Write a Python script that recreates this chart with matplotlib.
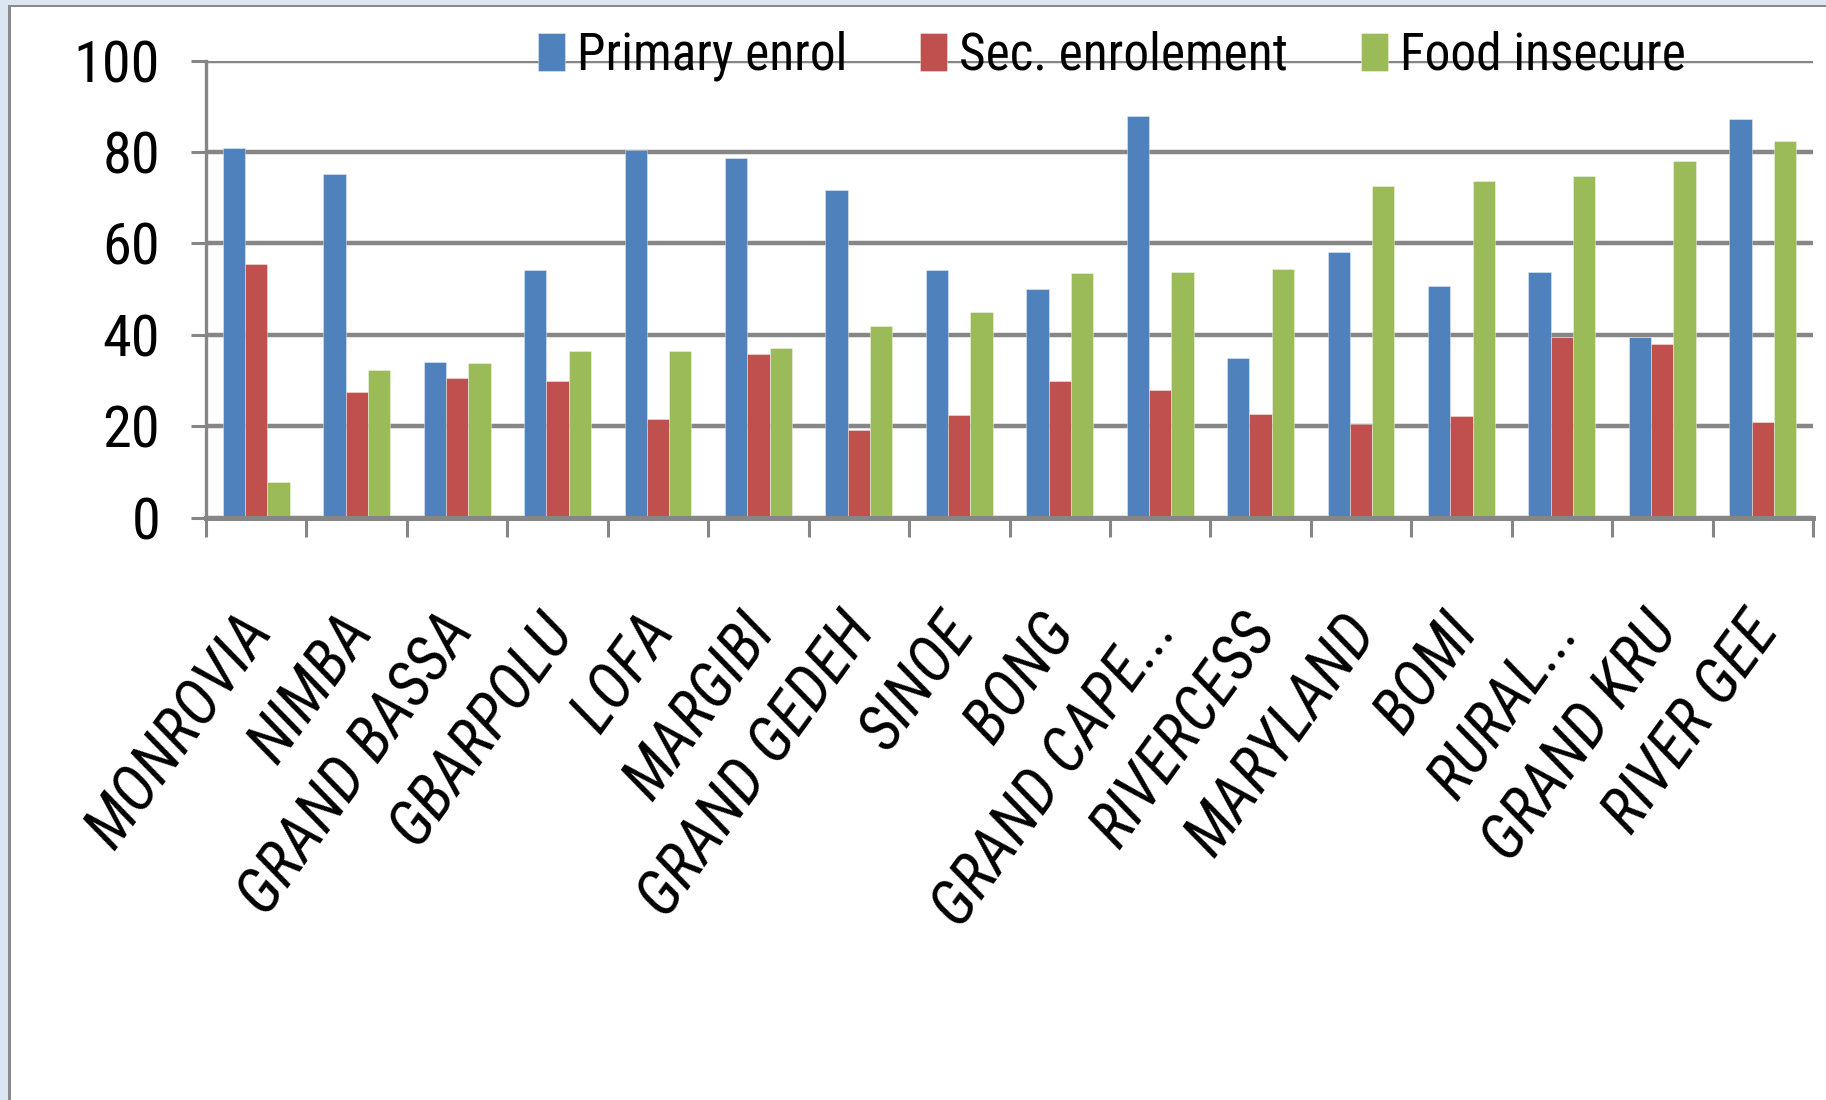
import matplotlib
matplotlib.use("Agg")
import matplotlib.pyplot as plt
import matplotlib.transforms as mtransforms
from matplotlib.patches import Rectangle
import numpy as np

counties = ["MONROVIA", "NIMBA", "GRAND BASSA", "GBARPOLU", "LOFA", "MARGIBI",
            "GRAND GEDEH", "SINOE", "BONG", "GRAND CAPE...", "RIVERCESS",
            "MARYLAND", "BOMI", "RURAL...", "GRAND KRU", "RIVER GEE"]
primary_enrol = [80.9, 75.1, 34.1, 54.1, 80.4, 78.7, 71.7, 54.1,
                 50.1, 87.9, 34.9, 58.1, 50.7, 53.7, 39.6, 87.2]
sec_enrol = [55.4, 27.5, 30.5, 29.9, 21.5, 35.7, 19.1, 22.4,
             29.9, 28.0, 22.6, 20.5, 22.2, 39.6, 38.1, 21.0]
food_insecure = [7.7, 32.3, 33.9, 36.4, 36.5, 37.2, 42.0, 45.0,
                 53.5, 53.8, 54.3, 72.5, 73.7, 74.7, 78.0, 82.4]

series = [("Primary enrol", primary_enrol, "#4F81BD"),
          ("Sec. enrolement", sec_enrol, "#C0504D"),
          ("Food insecure", food_insecure, "#9BBB59")]

GREY = "#868686"
NARROW = ["Roboto Condensed", "DejaVu Sans"]

fig = plt.figure(figsize=(18.26, 11.0), dpi=100)
fig.patch.set_facecolor("white")

# slide frame: light blue strip on the left and top with a grey edge
fig.patches.append(Rectangle((0, 0), 8 / 1826, 1, transform=fig.transFigure,
                             facecolor="#DCE6F2", edgecolor="none", zorder=0))
fig.patches.append(Rectangle((0, 1 - 5 / 1100), 1, 5 / 1100, transform=fig.transFigure,
                             facecolor="#DCE6F2", edgecolor="none", zorder=0))
fig.patches.append(Rectangle((8 / 1826, 0), 3 / 1826, 1 - 5 / 1100, transform=fig.transFigure,
                             facecolor="#8A8A8A", edgecolor="none", zorder=1))
fig.patches.append(Rectangle((8 / 1826, 1 - 7 / 1100), 1, 2 / 1100, transform=fig.transFigure,
                             facecolor="#8A8A8A", edgecolor="none", zorder=1))

ax = fig.add_axes([206 / 1826, 1 - 517.7 / 1100, 1607 / 1826, 457.2 / 1100])

x = np.arange(len(counties)) + 0.5
width = 0.222
for k, (name, vals, color) in enumerate(series):
    ax.bar(x + (k - 1) * width, vals, width, color=color, label=name,
           edgecolor=(1, 1, 1, 0.45), linewidth=0.6, zorder=2)

ax.set_xlim(0, len(counties))
ax.set_ylim(0, 100)
ax.set_yticks(np.arange(0, 101, 20))
ax.set_xticks(np.arange(len(counties) + 1))
ax.set_xticklabels([])
ax.set_axisbelow(True)
ax.yaxis.grid(True, color=GREY, linewidth=3.2)
ax.xaxis.grid(False)

for side in ("top", "right"):
    ax.spines[side].set_visible(False)
ax.spines["left"].set_color(GREY)
ax.spines["left"].set_linewidth(2.4)
ax.spines["bottom"].set_color(GREY)
ax.spines["bottom"].set_linewidth(3.6)

ax.tick_params(axis="y", direction="out", length=11, width=2.2, color=GREY,
               pad=22, labelsize=42)
ax.tick_params(axis="x", direction="out", length=14, width=2.2, color=GREY)
for lab in ax.get_yticklabels():
    lab.set_family(NARROW)

# county names, slanted and hung below the axis
label_trans = mtransforms.offset_copy(ax.get_xaxis_transform(), fig=fig,
                                      x=-20, y=-86, units="dots")
for xi, name in zip(x, counties):
    ax.text(xi, 0, name, transform=label_trans, rotation=54,
            rotation_mode="anchor", ha="right", va="top",
            fontsize=45, style="italic", family=NARROW)

leg = ax.legend(loc="center left", bbox_to_anchor=((538 - 206) / 1607, 1.0095),
                ncol=3, frameon=False, borderpad=0, borderaxespad=0,
                handlelength=0.525, handleheight=0.76, handletextpad=0.23,
                columnspacing=1.42, prop={"family": NARROW, "size": 37})

fig.savefig("out.png", dpi=100)
